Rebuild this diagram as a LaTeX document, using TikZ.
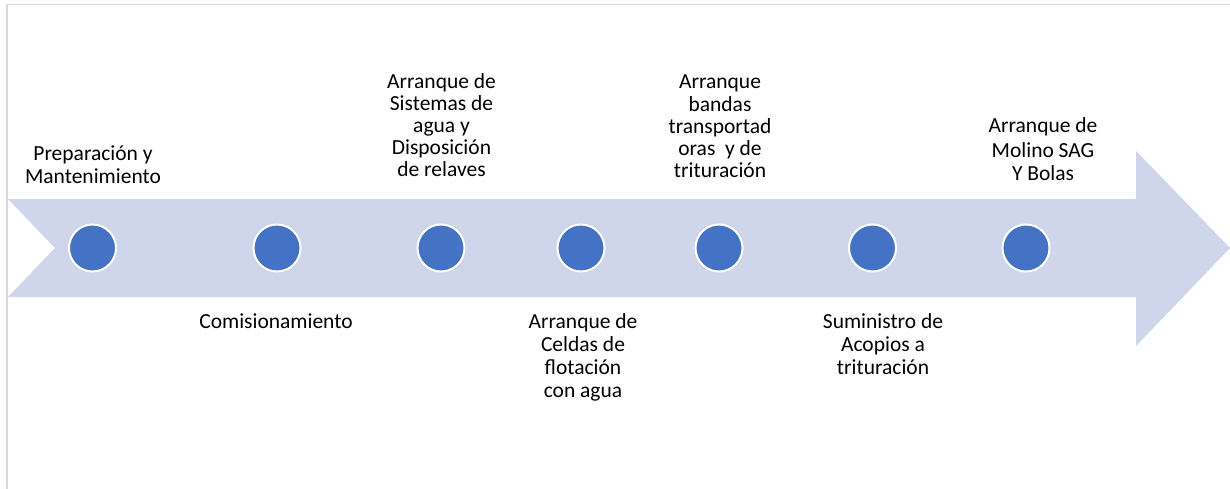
\documentclass[tikz,border=0pt]{standalone}
\usepackage{fontspec}
\setmainfont{Carlito}
\definecolor{arrowfill}{HTML}{CFD5EA}
\definecolor{dotfill}{HTML}{4472C4}
\definecolor{framegray}{HTML}{D9D9D9}
\begin{document}
\begin{tikzpicture}[x=1pt,y=-1pt,
  dot/.style={circle, fill=dotfill, draw=white, line width=2pt, minimum size=47pt, inner sep=0pt},
  lbl/.style={anchor=base, inner sep=0pt, align=center, text=black},
  sk/.style={font=\fontsize{21.5}{#1}\selectfont}]
\useasboundingbox (0,0) rectangle (1230,489);
\fill[white] (0,0) rectangle (1230,489);
\draw[framegray, line width=1.6pt] (7,489) -- (7,4.5) -- (1230,4.5);
\fill[arrowfill] (8,199) -- (1136,199) -- (1136,151) -- (1230,248) -- (1136,346) -- (1136,297) -- (8,297) -- (55,248) -- cycle;
\node[dot] (c1) at (92.5,248) {};
\node[dot] (c2) at (277,248) {};
\node[dot] (c3) at (441,248) {};
\node[dot] (c4) at (581,248) {};
\node[dot] (c5) at (719,248) {};
\node[dot] (c6) at (872.5,248) {};
\node[dot] (c7) at (1026,248) {};
\node[lbl, sk=23] (l1) at (93,183) {Preparación y\\Mantenimiento};
\node[lbl, sk=23] (l2) at (276,328) {Comisionamiento};
\node[lbl, sk=21.75] (l3) at (441.5,176) {Arranque de\\Sistemas de\\agua y\\Disposición\\de relaves};
\node[lbl, sk=23] (l4) at (583,397) {Arranque de\\Celdas de\\flotación\\con agua};
\node[lbl, sk=22.25] (l5) at (720,178) {Arranque\\bandas\\transportad\\oras~ y de\\trituración};
\node[lbl, sk=23] (l6) at (883,374) {Suministro de\\Acopios a\\trituración};
\node[lbl, sk=24] (l7) at (1043,181) {Arranque de\\Molino SAG\\Y Bolas};
\end{tikzpicture}
\end{document}
